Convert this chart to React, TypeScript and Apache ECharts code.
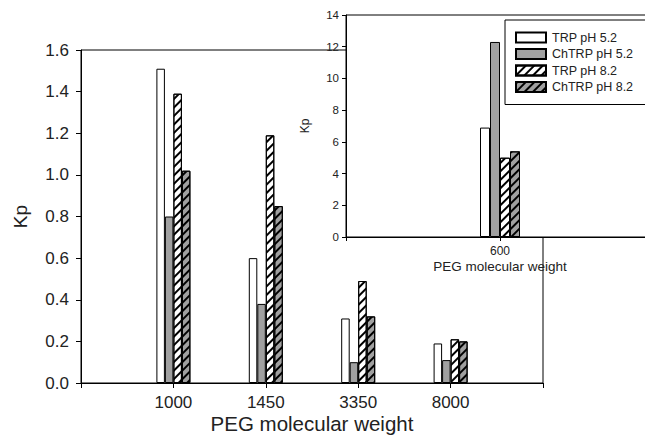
import React, { useEffect, useRef } from "react";
import * as echarts from "echarts";

const mainCategories = ["", "1000", "1450", "3350", "8000", ""];
const mainTrp52 = [null, 1.51, 0.60, 0.31, 0.19, null];
const mainChtrp52 = [null, 0.80, 0.38, 0.10, 0.11, null];
const mainTrp82 = [null, 1.39, 1.19, 0.49, 0.21, null];
const mainChtrp82 = [null, 1.02, 0.85, 0.32, 0.20, null];

const insetCategories = ["", "600", ""];
const insetTrp52 = [null, 6.9, null];
const insetChtrp52 = [null, 12.3, null];
const insetTrp82 = [null, 5.0, null];
const insetChtrp82 = [null, 5.4, null];

const seriesNames = ["TRP pH 5.2", "ChTRP pH 5.2", "TRP pH 8.2", "ChTRP pH 8.2"];

const FONT = "Arial, 'Liberation Sans', sans-serif";

export default function App() {
  const ref = useRef<HTMLDivElement>(null);
  useEffect(() => {
    if (!ref.current) return;
    const chart = echarts.init(ref.current, null, { renderer: "svg" });
    const hatch = {
      symbol: "rect",
      symbolSize: 1,
      color: "#000",
      dashArrayX: [1, 0],
      dashArrayY: [1.5, 3.5],
      rotation: -Math.PI / 4,
    };
    const styles = [
      { color: "#ffffff", borderColor: "#000", borderWidth: 1 },
      { color: "#a0a0a0", borderColor: "#000", borderWidth: 1 },
      { color: "#ffffff", borderColor: "#000", borderWidth: 1, decal: hatch },
      { color: "#a0a0a0", borderColor: "#000", borderWidth: 1, decal: hatch },
    ];
    const mainData = [mainTrp52, mainChtrp52, mainTrp82, mainChtrp82];
    const insetData = [insetTrp52, insetChtrp52, insetTrp82, insetChtrp82];
    const series: any[] = [];
    mainData.forEach((d, i) => {
      series.push({
        type: "bar",
        name: seriesNames[i],
        xAxisIndex: 0,
        yAxisIndex: 0,
        data: d,
        barWidth: 8.5,
        barGap: "0%",
        itemStyle: styles[i],
        z: 2,
        silent: true,
      });
    });
    insetData.forEach((d, i) => {
      series.push({
        type: "bar",
        name: seriesNames[i],
        xAxisIndex: 1,
        yAxisIndex: 1,
        data: d,
        barWidth: 10,
        barGap: "0%",
        itemStyle: styles[i],
        z: 12,
        silent: true,
      });
    });
    const axisLine = { show: true, lineStyle: { color: "#000", width: 1 } };
    chart.setOption({
      animation: false,
      backgroundColor: "#fff",
      textStyle: { fontFamily: FONT },
      grid: [
        {
          left: 81,
          top: 50,
          width: 462,
          height: 333,
          outerBoundsMode: "none",
          containLabel: false,
          show: true,
          borderColor: "#000",
          borderWidth: 1,
          backgroundColor: "transparent",
          z: 0,
        },
        {
          left: 346,
          top: 15,
          width: 308,
          height: 222,
          outerBoundsMode: "none",
          containLabel: false,
          show: true,
          borderColor: "#000",
          borderWidth: 1,
          backgroundColor: "#fff",
          z: 10,
        },
      ],
      legend: {
        data: seriesNames,
        orient: "vertical",
        left: 505,
        top: 20,
        padding: [11, 40, 11, 10],
        itemWidth: 30,
        itemHeight: 10,
        itemGap: 3.5,
        backgroundColor: "#fff",
        borderColor: "#000",
        borderWidth: 1,
        borderRadius: 0,
        icon: "rect",
        z: 20,
        textStyle: { fontFamily: FONT, fontSize: 12.5, color: "#222", padding: [0, 0, 0, 1] },
      },
      xAxis: [
        {
          type: "category",
          gridIndex: 0,
          data: mainCategories,
          boundaryGap: false,
          axisLine,
          axisTick: { show: true, length: 5, lineStyle: { color: "#000" } },
          axisLabel: { fontFamily: FONT, fontSize: 17, color: "#222", margin: 11, interval: 0 },
          name: "PEG molecular weight",
          nameLocation: "middle",
          nameGap: 30,
          nameMoveOverlap: false,
          nameTextStyle: { fontFamily: FONT, fontSize: 20.5, color: "#222" },
          splitLine: { show: false },
          z: 0,
        },
        {
          type: "category",
          gridIndex: 1,
          data: insetCategories,
          boundaryGap: false,
          axisLine,
          axisTick: { show: true, length: 4, lineStyle: { color: "#000" } },
          axisLabel: { fontFamily: FONT, fontSize: 12, color: "#222", margin: 8, interval: 0 },
          name: "PEG molecular weight",
          nameLocation: "middle",
          nameGap: 22,
          nameMoveOverlap: false,
          nameTextStyle: { fontFamily: FONT, fontSize: 13.5, color: "#222" },
          splitLine: { show: false },
          z: 11,
        },
      ],
      yAxis: [
        {
          type: "value",
          gridIndex: 0,
          min: 0,
          max: 1.6,
          interval: 0.2,
          axisLine,
          axisTick: { show: true, length: 5, lineStyle: { color: "#000" } },
          axisLabel: {
            fontFamily: FONT,
            fontSize: 17,
            color: "#222",
            margin: 12,
            formatter: (v: number) => v.toFixed(1),
          },
          splitLine: { show: false },
          name: "Kp",
          nameLocation: "middle",
          nameGap: 51,
          nameMoveOverlap: false,
          nameRotate: 90,
          nameTextStyle: { fontFamily: FONT, fontSize: 19, color: "#222" },
          z: 0,
        },
        {
          type: "value",
          gridIndex: 1,
          min: 0,
          max: 14,
          interval: 2,
          axisLine,
          axisTick: { show: true, length: 4, lineStyle: { color: "#000" } },
          axisLabel: { fontFamily: FONT, fontSize: 11.5, color: "#222", margin: 7 },
          splitLine: { show: false },
          name: "Kp",
          nameLocation: "middle",
          nameGap: 35,
          nameMoveOverlap: false,
          nameRotate: 90,
          nameTextStyle: { fontFamily: FONT, fontSize: 12, color: "#222" },
          z: 11,
        },
      ],
      series,
    });
    return () => chart.dispose();
  }, []);
  return (
    <div
      ref={ref}
      style={{ position: "fixed", left: 0, top: 0, width: 645, height: 435 }}
    />
  );
}
